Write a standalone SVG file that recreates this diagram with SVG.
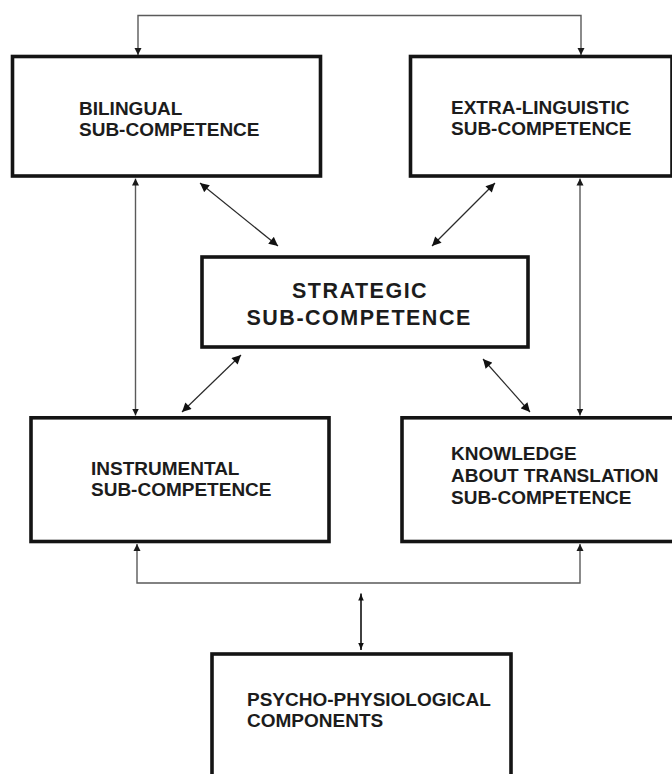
<svg xmlns="http://www.w3.org/2000/svg" width="672" height="774" viewBox="0 0 672 774">
<defs>
<style>
.box{fill:#fff;stroke:#141414;stroke-width:3.6}
.t{font-family:"Liberation Sans",Arial,sans-serif;font-weight:bold;font-size:19px;fill:#1c1c1c}
.ts{font-family:"Liberation Sans",Arial,sans-serif;font-weight:bold;font-size:21.5px;letter-spacing:1.5px;fill:#1c1c1c}
.c{fill:none;stroke:#5a5a5a;stroke-width:1.4}
.d{fill:none;stroke:#2a2a2a;stroke-width:1.2}
.p{fill:none;stroke:#111;stroke-width:1.6}
</style>
<marker id="ag" viewBox="0 0 10 10" refX="10" refY="5" markerWidth="7" markerHeight="10" markerUnits="userSpaceOnUse" orient="auto-start-reverse">
<path d="M0,0 L10,5 L0,10 z" fill="#1a1a1a"/>
</marker>
<marker id="ad" viewBox="0 0 10 10" refX="10" refY="5" markerWidth="10" markerHeight="9" markerUnits="userSpaceOnUse" orient="auto-start-reverse">
<path d="M0,0 L10,5 L0,10 z" fill="#111"/>
</marker>
<marker id="ap" viewBox="0 0 10 10" refX="10" refY="5" markerWidth="7" markerHeight="10" markerUnits="userSpaceOnUse" orient="auto-start-reverse">
<path d="M0,1 Q4,3 10,5 Q4,7 0,9 z" fill="#111"/>
</marker>
</defs>
<rect width="672" height="774" fill="#fff"/>

<g id="connectors">
<path class="c" d="M138,55 L138,15.5 L581,15.5 L581,55" marker-start="url(#ag)" marker-end="url(#ag)"/>
<path class="c" d="M137,544 L137,583 L580,583 L580,544" marker-start="url(#ag)" marker-end="url(#ag)"/>
<line class="c" x1="135.5" y1="178.5" x2="135.5" y2="415.5" marker-start="url(#ag)" marker-end="url(#ag)"/>
<line class="c" x1="580" y1="178.5" x2="580" y2="415.5" marker-start="url(#ag)" marker-end="url(#ag)"/>
<line class="d" x1="200" y1="183" x2="278" y2="246" marker-start="url(#ad)" marker-end="url(#ad)"/>
<line class="d" x1="495" y1="183" x2="432" y2="246" marker-start="url(#ad)" marker-end="url(#ad)"/>
<line class="d" x1="241" y1="355" x2="182" y2="412" marker-start="url(#ad)" marker-end="url(#ad)"/>
<line class="d" x1="483" y1="359" x2="530" y2="412" marker-start="url(#ad)" marker-end="url(#ad)"/>
<line class="p" x1="361" y1="593.5" x2="361" y2="650" marker-start="url(#ap)" marker-end="url(#ap)"/>
</g>

<g id="bilingual">
<rect class="box" x="12.5" y="56.5" width="308" height="119.5"/>
<text class="t" x="79" y="115">BILINGUAL</text>
<text class="t" x="79" y="136">SUB-COMPETENCE</text>
</g>

<g id="extra-linguistic">
<rect class="box" x="410.5" y="56.5" width="261.5" height="119.5"/>
<text class="t" x="451" y="113.5">EXTRA-LINGUISTIC</text>
<text class="t" x="451" y="134.5">SUB-COMPETENCE</text>
</g>

<g id="strategic">
<rect class="box" x="202" y="257" width="326" height="90"/>
<text class="ts" x="292" y="297.5">STRATEGIC</text>
<text class="ts" x="246.5" y="324.7">SUB-COMPETENCE</text>
</g>

<g id="instrumental">
<rect class="box" x="31" y="417.8" width="298" height="123.7"/>
<text class="t" x="91" y="475.3">INSTRUMENTAL</text>
<text class="t" x="91" y="496.3">SUB-COMPETENCE</text>
</g>

<g id="knowledge">
<rect class="box" x="402" y="417.8" width="290" height="123.7"/>
<text class="t" x="451" y="460.3">KNOWLEDGE</text>
<text class="t" x="451" y="481.5">ABOUT TRANSLATION</text>
<text class="t" x="451" y="503.5">SUB-COMPETENCE</text>
</g>

<g id="psycho-physiological">
<rect class="box" x="212" y="654" width="299" height="140"/>
<text class="t" x="247" y="706">PSYCHO-PHYSIOLOGICAL</text>
<text class="t" x="247" y="726.7">COMPONENTS</text>
</g>
</svg>
